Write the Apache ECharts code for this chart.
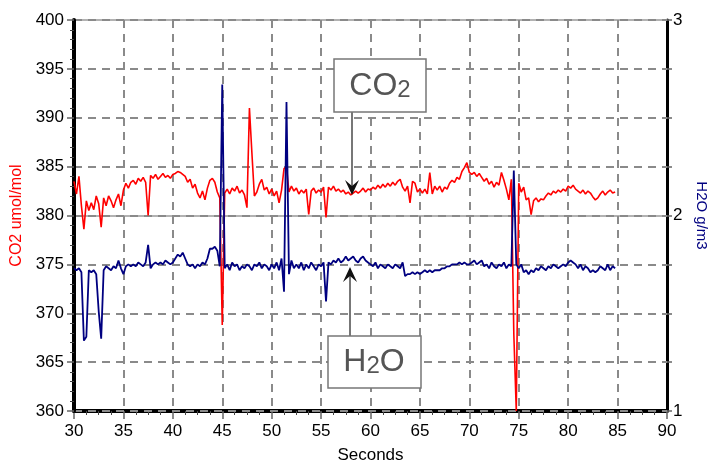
<!DOCTYPE html>
<html>
<head>
<meta charset="utf-8">
<script src="https://cdn.jsdelivr.net/npm/echarts@6/dist/echarts.min.js"></script>
<style>html,body{margin:0;padding:0;background:#fff;}#chart{width:708px;height:467px;}</style>
</head>
<body>
<div id="chart"></div>
<script>
// Sampling of the record (seconds)
const sampleStart = 30;
const sampleStep = 0.25;

// CO2 (umol/mol), four samples per second, from 30.00 s to 84.75 s
const co2Values = [
  383.5, 382.2, 384.0, 381.0, // 30
  378.6, 381.5, 380.5, 381.3, // 31
  380.6, 382.0, 381.2, 378.8, // 32
  381.8, 381.0, 382.0, 381.5, // 33
  380.8, 381.6, 382.2, 381.0, // 34
  382.6, 383.3, 382.8, 383.4, // 35
  383.6, 383.2, 383.8, 383.5, // 36
  383.9, 383.4, 380.0, 384.1, // 37
  383.8, 384.2, 383.7, 384.0, // 38
  384.3, 383.9, 384.1, 383.8, // 39
  384.2, 384.3, 384.5, 384.4, // 40
  384.2, 384.0, 383.4, 383.7, // 41
  382.8, 383.2, 382.3, 381.8, // 42
  382.5, 381.6, 382.8, 383.6, // 43
  383.8, 383.4, 382.4, 381.8, // 44
  368.8, 382.3, 382.7, 382.2, // 45
  382.8, 382.5, 383.0, 382.3, // 46
  382.6, 382.1, 380.8, 391.0, // 47
  386.4, 382.0, 382.4, 383.2, // 48
  383.7, 382.6, 382.9, 382.2, // 49
  382.7, 382.0, 382.5, 381.3, // 50
  382.6, 384.8, 385.0, 382.4, // 51
  383.0, 382.5, 382.8, 382.2, // 52
  382.6, 382.3, 382.7, 380.1, // 53
  382.5, 382.8, 382.3, 382.6, // 54
  382.4, 382.9, 379.8, 382.9, // 55
  382.6, 383.0, 382.5, 382.7, // 56
  382.4, 382.6, 382.2, 382.4, // 57
  382.1, 382.3, 382.5, 382.3, // 58
  382.5, 382.8, 382.4, 382.7, // 59
  382.6, 382.9, 382.7, 383.1, // 60
  382.8, 383.2, 382.9, 383.3, // 61
  383.0, 383.4, 383.1, 383.5, // 62
  383.7, 382.9, 382.5, 383.0, // 63
  381.3, 383.5, 383.3, 382.4, // 64
  382.7, 382.3, 382.7, 382.2, // 65
  384.4, 382.2, 383.0, 382.6, // 66
  383.0, 382.4, 382.9, 382.7, // 67
  383.3, 383.6, 383.4, 383.9, // 68
  383.7, 384.5, 384.9, 385.4, // 69
  384.4, 384.2, 384.4, 384.0, // 70
  384.3, 383.9, 383.5, 383.8, // 71
  383.2, 383.5, 382.9, 383.4, // 72
  383.1, 384.4, 383.6, 382.7, // 73
  381.6, 383.7, 367.9, 360.0, // 74
  383.3, 382.4, 382.9, 381.6, // 75
  381.8, 380.1, 381.5, 381.8, // 76
  381.4, 381.7, 381.6, 382.0, // 77
  382.3, 382.1, 382.5, 382.3, // 78
  382.6, 382.4, 382.7, 382.5, // 79
  383.0, 382.8, 383.1, 382.7, // 80
  382.5, 382.3, 382.6, 382.2, // 81
  382.5, 382.3, 381.9, 381.6, // 82
  381.8, 382.2, 382.5, 382.1, // 83
  382.4, 382.6, 382.3, 382.4  // 84
];

// H2O (g/m3), same sampling
const h2oValues = [
  1.73, 1.72, 1.73, 1.71, // 30
  1.36, 1.38, 1.72, 1.71, // 31
  1.72, 1.70, 1.51, 1.37, // 32
  1.72, 1.74, 1.73, 1.72, // 33
  1.74, 1.73, 1.77, 1.73, // 34
  1.70, 1.74, 1.75, 1.74, // 35
  1.75, 1.74, 1.76, 1.75, // 36
  1.74, 1.76, 1.85, 1.73, // 37
  1.75, 1.76, 1.75, 1.76, // 38
  1.75, 1.77, 1.76, 1.75, // 39
  1.76, 1.78, 1.80, 1.79, // 40
  1.81, 1.78, 1.75, 1.74, // 41
  1.75, 1.73, 1.75, 1.74, // 42
  1.76, 1.75, 1.78, 1.83, // 43
  1.83, 1.84, 1.82, 1.74, // 44
  2.67, 1.73, 1.75, 1.72, // 45
  1.76, 1.74, 1.75, 1.72, // 46
  1.74, 1.73, 1.75, 1.74, // 47
  1.72, 1.75, 1.74, 1.76, // 48
  1.73, 1.75, 1.74, 1.72, // 49
  1.75, 1.73, 1.76, 1.72, // 50
  1.78, 1.61, 2.58, 1.70, // 51
  1.77, 1.73, 1.75, 1.73, // 52
  1.76, 1.72, 1.75, 1.73, // 53
  1.76, 1.74, 1.72, 1.75, // 54
  1.74, 1.76, 1.56, 1.76, // 55
  1.75, 1.77, 1.76, 1.78, // 56
  1.76, 1.77, 1.79, 1.77, // 57
  1.78, 1.79, 1.77, 1.76, // 58
  1.78, 1.79, 1.77, 1.76, // 59
  1.75, 1.74, 1.76, 1.73, // 60
  1.75, 1.74, 1.73, 1.75, // 61
  1.74, 1.73, 1.75, 1.74, // 62
  1.73, 1.76, 1.69, 1.70, // 63
  1.70, 1.71, 1.70, 1.71, // 64
  1.70, 1.71, 1.72, 1.71, // 65
  1.72, 1.71, 1.72, 1.72, // 66
  1.72, 1.73, 1.73, 1.74, // 67
  1.74, 1.75, 1.75, 1.75, // 68
  1.76, 1.75, 1.76, 1.75, // 69
  1.75, 1.76, 1.77, 1.75, // 70
  1.76, 1.77, 1.74, 1.75, // 71
  1.73, 1.76, 1.74, 1.73, // 72
  1.75, 1.74, 1.76, 1.73, // 73
  1.75, 1.74, 2.23, 1.75, // 74
  1.73, 1.75, 1.71, 1.72, // 75
  1.70, 1.72, 1.71, 1.73, // 76
  1.72, 1.74, 1.73, 1.72, // 77
  1.74, 1.73, 1.75, 1.74, // 78
  1.73, 1.74, 1.75, 1.74, // 79
  1.76, 1.77, 1.76, 1.75, // 80
  1.73, 1.75, 1.72, 1.74, // 81
  1.73, 1.71, 1.72, 1.71, // 82
  1.72, 1.74, 1.73, 1.72, // 83
  1.75, 1.72, 1.74, 1.73  // 84
];

// Axis ranges and titles
const xRange = [30, 90], xStep = 5;
const co2Range = [360, 400], co2Step = 5;
const h2oRange = [1, 3], h2oStep = 1;
const xTitle = 'Seconds';
const co2Title = 'CO2 umol/mol';
const h2oTitle = 'H2O g/m3';

const co2Data = co2Values.map((v, i) => [sampleStart + i * sampleStep, v]);
const h2oData = h2oValues.map((v, i) => [sampleStart + i * sampleStep, v]);

const FONT = 'Liberation Sans, Arial, sans-serif';
const gridDash = { color: '#8a8a8a', width: 2, type: [8, 6] };

const chart = echarts.init(document.getElementById('chart'), null, { renderer: 'canvas' });

function chevron(x, y, dir) {
  // arrow head whose tip is at (x, y); dir = 1 points down, -1 points up
  const h = 15, w = 7, notch = 6;
  return {
    type: 'polygon',
    shape: { points: [[x, y], [x - w, y - dir * h], [x, y - dir * (h - notch)], [x + w, y - dir * h]] },
    style: { fill: '#111' },
    z: 100
  };
}

const option = {
  animation: false,
  backgroundColor: '#fff',
  grid: { left: 74, right: 41, top: 20, bottom: 56, containLabel: false, outerBoundsMode: 'none' },
  xAxis: {
    type: 'value', min: xRange[0], max: xRange[1], interval: xStep,
    name: xTitle, nameLocation: 'middle', nameGap: 36,
    nameTextStyle: { color: '#000', fontSize: 17, fontFamily: FONT },
    axisLine: { show: true, onZero: false, lineStyle: { color: '#000', width: 4 } },
    axisTick: { show: true, length: 8, lineStyle: { color: '#666', width: 1.5 } },
    minorTick: { show: true, splitNumber: 4, length: 4, lineStyle: { color: '#444', width: 1 } },
    axisLabel: { color: '#000', fontSize: 17, fontFamily: FONT, margin: 12 },
    splitLine: { show: true, lineStyle: gridDash }
  },
  yAxis: [
    {
      type: 'value', min: co2Range[0], max: co2Range[1], interval: co2Step,
      name: co2Title, nameLocation: 'middle', nameGap: 47,
      nameTextStyle: { color: '#ff0000', fontSize: 16, fontFamily: FONT },
      axisLine: { show: true, onZero: false, lineStyle: { color: '#000', width: 4 } },
      axisTick: { show: true, length: 7, lineStyle: { color: '#666', width: 1.5 } },
      minorTick: { show: true, splitNumber: 5, length: 4, lineStyle: { color: '#444', width: 1 } },
      axisLabel: { color: '#000', fontSize: 17, fontFamily: FONT, margin: 10 },
      splitLine: { show: true, lineStyle: gridDash },
      z: 3
    },
    {
      type: 'value', min: h2oRange[0], max: h2oRange[1], interval: h2oStep,
      position: 'right',
      name: h2oTitle, nameLocation: 'middle', nameGap: 25, nameRotate: -90,
      nameTextStyle: { color: '#000080', fontSize: 15, fontFamily: FONT },
      axisLine: { show: true, onZero: false, lineStyle: { color: '#000', width: 3 } },
      axisTick: { show: true, length: 5, lineStyle: { color: '#666', width: 1.5 } },
      minorTick: { show: true, splitNumber: 4, length: 5, lineStyle: { color: '#666', width: 1.5 } },
      axisLabel: { color: '#000', fontSize: 17, fontFamily: FONT, margin: 6 },
      splitLine: { show: true, lineStyle: { color: '#999', width: 1.5, type: 'solid' } }
    }
  ],
  series: [
    {
      name: 'CO2', type: 'line', xAxisIndex: 0, yAxisIndex: 0,
      data: co2Data, showSymbol: false, symbol: 'none',
      lineStyle: { color: '#ff0000', width: 1.6 }, z: 5
    },
    {
      name: 'H2O', type: 'line', xAxisIndex: 0, yAxisIndex: 1,
      data: h2oData, showSymbol: false, symbol: 'none',
      lineStyle: { color: '#000080', width: 1.8 }, z: 6
    }
  ],
  graphic: [
    // CO2 callout
    { type: 'line', shape: { x1: 352, y1: 112, x2: 352, y2: 186 }, style: { stroke: '#777', lineWidth: 2 }, z: 99 },
    chevron(352, 195, 1),
    { type: 'rect', shape: { x: 334, y: 59, width: 92, height: 53 }, style: { fill: '#fff', stroke: '#777', lineWidth: 1.5 }, z: 99 },
    { type: 'text', x: 380, y: 86, z: 100,
      style: { text: '{a|CO}{b|2}', align: 'center', verticalAlign: 'middle',
        rich: { a: { fontSize: 32, fontFamily: FONT, fill: '#555' }, b: { fontSize: 24, fontFamily: FONT, fill: '#555', padding: [9, 0, 0, 0] } } } },
    // H2O callout
    { type: 'line', shape: { x1: 350, y1: 336, x2: 350, y2: 276 }, style: { stroke: '#777', lineWidth: 2 }, z: 99 },
    chevron(350, 267, -1),
    { type: 'rect', shape: { x: 328, y: 336, width: 93, height: 52 }, style: { fill: '#fff', stroke: '#777', lineWidth: 1.5 }, z: 99 },
    { type: 'text', x: 374, y: 362, z: 100,
      style: { text: '{a|H}{b|2}{a|O}', align: 'center', verticalAlign: 'middle',
        rich: { a: { fontSize: 32, fontFamily: FONT, fill: '#555' }, b: { fontSize: 24, fontFamily: FONT, fill: '#555', padding: [9, 0, 0, 0] } } } }
  ]
};
chart.setOption(option);
</script>
</body>
</html>
